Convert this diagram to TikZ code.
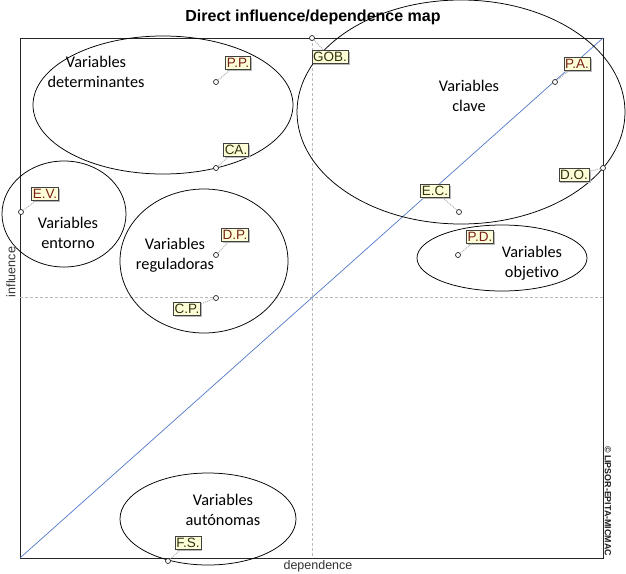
\documentclass[tikz,border=0pt]{standalone}
\usepackage{fontspec}
\setmainfont{Liberation Sans}
\newfontfamily\calib[Ligatures={NoCommon}]{Carlito}
\usetikzlibrary{shadows}
\definecolor{lblfill}{RGB}{255,255,215}
\definecolor{lblred}{RGB}{120,30,30}
\definecolor{lbldark}{RGB}{50,50,20}
\definecolor{diagblue}{RGB}{80,120,200}
\tikzset{
  lbl/.style={draw=gray!50!black, fill=lblfill, line width=0.6pt,
    inner xsep=1.3pt, inner ysep=1.5pt, text height=9.8pt, text depth=0.4pt,
    font=\fontsize{13.5}{13.5}\selectfont,
    text=lbldark,
    drop shadow={shadow xshift=1.5pt, shadow yshift=-1.5pt, fill=gray!55, opacity=1}},
  redlbl/.style={lbl, text=lblred},
  pt/.style={circle, draw=gray!30!black, fill=white, line width=0.7pt,
    inner sep=0pt, minimum size=5pt},
  leader/.style={draw=gray!60, line width=1pt, densely dotted},
  grp/.style={draw=black, line width=0.75pt},
  grptext/.style={align=center, font=\calib\fontsize{16.3}{20}\selectfont},
  axis/.style={draw=gray!55, line width=0.5pt, densely dashed},
}
\begin{document}
\begin{tikzpicture}[x=1pt,y=-1pt]
\useasboundingbox (0,0) rectangle (626,573);
% title
\node[font=\bfseries\fontsize{16}{16}\selectfont] (title) at (313,17) {Direct influence/dependence map};
% frame
\coordinate (bl) at (20,558);
\coordinate (tr) at (603,38);
\draw[line width=0.8pt, draw=gray!30!black] (20,38) rectangle (603,558);
% median axes
\coordinate (vt) at (312,38);
\coordinate (vb) at (312,558);
\coordinate (hl) at (20,297);
\coordinate (hr) at (603,297);
\draw[axis] (vt) -- (vb);
\draw[axis] (hl) -- (hr);
% diagonal
\draw[draw=diagblue, line width=0.7pt] (bl) -- (tr);
% axis labels
\node[text=gray!40!black, font=\fontsize{12.5}{12.5}\selectfont] (dep) at (318,566) {dependence};
\node[text=gray!40!black, font=\fontsize{12.5}{12.5}\selectfont, rotate=90] (inf) at (11,272) {influence};
\node[rotate=-90, font=\bfseries\fontsize{7.5}{7.5}\selectfont, text=gray!20!black] (copy) at (608,501) {\resizebox{110pt}{!}{\textcopyright\ LIPSOR-EPITA-MICMAC}};
% group ellipses
\draw[grp] (163,105) ellipse [x radius=130, y radius=69];
\draw[grp] (64,214) ellipse [x radius=62, y radius=53];
\draw[grp] (204,261) ellipse [x radius=84, y radius=72];
\draw[grp] (461,112) ellipse [x radius=164, y radius=112];
\draw[grp] (502,258) ellipse [x radius=85, y radius=33];
\draw[grp] (208,519) ellipse [x radius=88, y radius=46];
% group texts
\node[grptext] (tdet) at (96,72) {Variables\\determinantes};
\node[grptext] (tcla) at (469,96) {Variables\\clave};
\node[grptext] (tent) at (68,233) {Variables\\entorno};
\node[grptext] (treg) at (175,255) {Variables\\reguladoras};
\node[grptext] (tobj) at (532,263) {Variables\\objetivo};
\node[grptext] (taut) at (223,510) {Variables\\autónomas};
% points
\node[pt] (pGOB) at (312,38) {};
\node[pt] (pPP) at (216,82) {};
\node[pt] (pCA) at (216,168) {};
\node[pt] (pEV) at (21,212) {};
\node[pt] (pDP) at (216,255) {};
\node[pt] (pCP) at (216,298) {};
\node[pt] (pPA) at (555,82) {};
\node[pt] (pDO) at (603,168) {};
\node[pt] (pEC) at (459,212) {};
\node[pt] (pPD) at (458,255) {};
\node[pt] (pFS) at (168,561) {};
% labels
\node[lbl] (lGOB) at (330,57) {GOB.};
\node[redlbl] (lPP) at (238,63) {P.P.};
\node[lbl] (lCA) at (236,150) {CA.};
\node[redlbl] (lEV) at (45,194) {E.V.};
\node[redlbl] (lDP) at (235,235) {D.P.};
\node[lbl] (lCP) at (187,309) {C.P.};
\node[redlbl] (lPA) at (577,64) {P.A.};
\node[lbl] (lDO) at (574,175) {D.O.};
\node[lbl] (lEC) at (435,191) {E.C.};
\node[redlbl] (lPD) at (480,237) {P.D.};
\node[lbl] (lFS) at (188,543) {F.S.};
% leaders
\foreach \n in {GOB,PP,CA,EV,DP,CP,PA,DO,EC,PD,FS}{
  \draw[leader] (p\n) -- (l\n);
}
\end{tikzpicture}
\end{document}
